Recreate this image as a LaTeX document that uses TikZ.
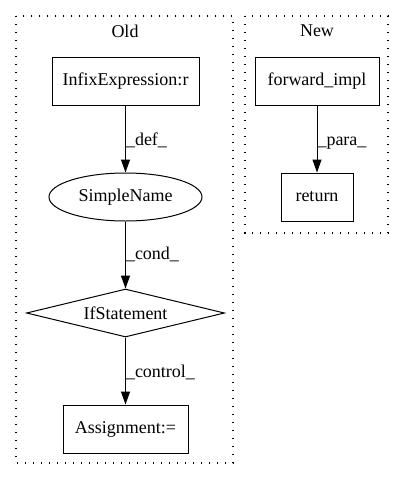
\documentclass[tikz,border=0pt]{standalone}
\usepackage{fontspec}
\setmainfont{Liberation Serif}
\usetikzlibrary{shapes.geometric,arrows.meta}
\begin{document}
\begin{tikzpicture}[x=1pt,y=1pt,
  every node/.style={font=\fontsize{18}{20}\selectfont},
  boxnode/.style={draw,rectangle,minimum height=48,inner sep=0pt,line width=1pt},
  cluster/.style={draw,line width=1.2pt,dash pattern=on 1.3pt off 6.7pt},
  conn/.style={-{Triangle[length=13pt,width=9pt]},line width=1pt},
  lbl/.style={anchor=base west,inner sep=0pt}]
\useasboundingbox (0,0) rectangle (405,-480);
\draw[cluster] (16,-16) rectangle (233,-463);
\draw[cluster] (245,-16) rectangle (388,-233);
\node (old) at (125,-31) {Old};
\node (new) at (317,-31) {New};
\node[boxnode,minimum width=147] (infix) at (125.5,-81) {InfixExpression:r};
\node[draw,ellipse,line width=1pt,minimum width=153,minimum height=48,inner sep=0pt] (simple) at (125.5,-197) {SimpleName};
\node[draw,diamond,line width=1pt,aspect=4.1,minimum width=198,minimum height=48,inner sep=0pt] (ifst) at (125.5,-313) {IfStatement};
\node[boxnode,minimum width=125] (assign) at (125.5,-429) {Assignment:=};
\node[boxnode,minimum width=124] (fwd) at (317,-81) {forward\_impl};
\node[boxnode,minimum width=72] (ret) at (317,-197) {return};
\draw[conn] (infix) -- node[lbl,pos=0.59] {\_def\_} (simple);
\draw[conn] (simple) -- node[lbl,pos=0.57] {\_cond\_} (ifst);
\draw[conn] (ifst) -- node[lbl,pos=0.59] {\_control\_} (assign);
\draw[conn] (fwd) -- node[lbl,pos=0.59] {\_para\_} (ret);
\end{tikzpicture}
\end{document}
